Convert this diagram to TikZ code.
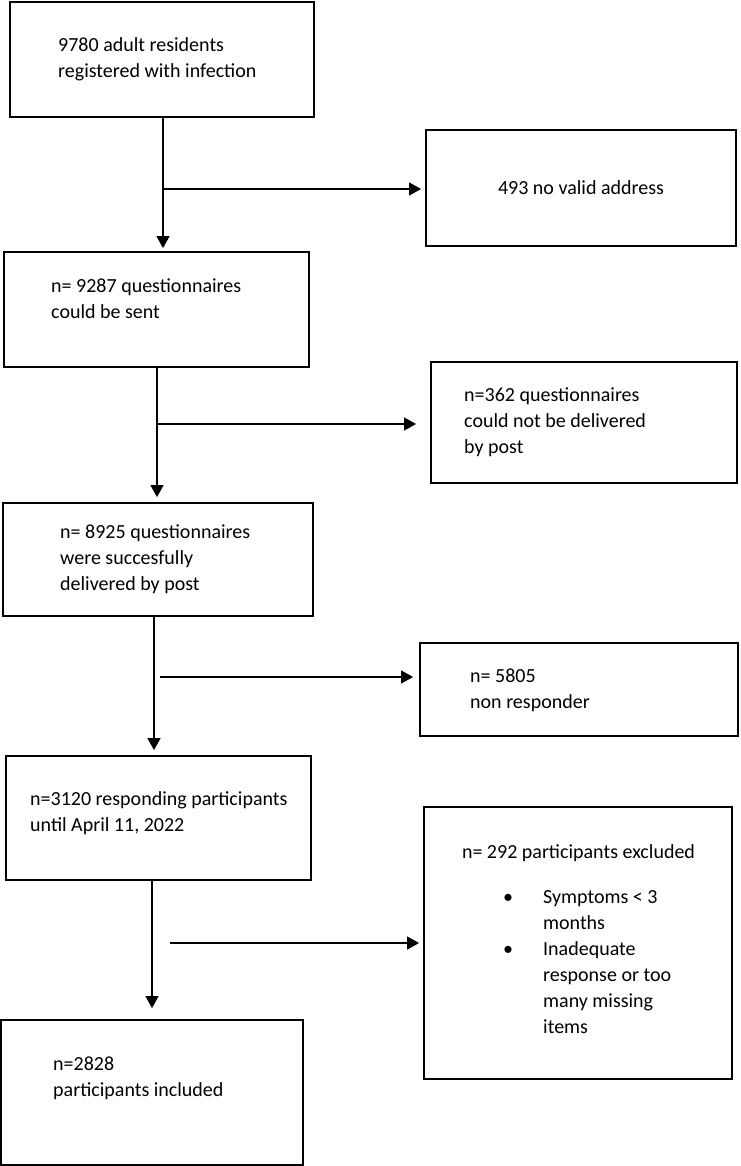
\documentclass[tikz,border=0pt]{standalone}
\usepackage{fontspec}
\setmainfont{Carlito}
\usetikzlibrary{arrows.meta}

\begin{document}
\begin{tikzpicture}[x=1pt,y=-1pt,>={Triangle[length=12pt,width=13pt]},
  box/.style={draw,line width=1.8pt,inner sep=0pt,font={\fontsize{20}{26}\selectfont}},
  txt/.style={align=left,inner sep=0pt,anchor=base west,font={\fontsize{20}{26}\selectfont}},
  link/.style={->,line width=1.2pt}]

  \useasboundingbox (0,0) rectangle (740,1166);

  % main column
  \node[box,minimum width=304pt,minimum height=115pt] (b1) at (162,59.5) {};
  \node[box,minimum width=305pt,minimum height=115pt] (b2) at (156.5,309.5) {};
  \node[box,minimum width=310pt,minimum height=113pt] (b3) at (158,559.5) {};
  \node[box,minimum width=305pt,minimum height=124pt] (b4) at (158.5,818) {};
  \node[box,minimum width=302pt,minimum height=145pt] (b5) at (152,1092.5) {};

  % texts sit on the baseline of their last line
  \node[txt] (t1) at (58,78) {9780 adult residents\\registered with infection};
  \node[txt] (t2) at (51,318) {n= 9287 questionnaires\\could be sent};
  \node[txt] (t3) at (60,590) {n= 8925 questionnaires\\were succesfully\\delivered by post};
  \node[txt] (t4) at (30,831) {n=3120 responding participants\\until April 11, 2022};
  \node[txt] (t5) at (53,1096) {n=2828\\participants included};

  % side boxes
  \node[box,minimum width=310pt,minimum height=116pt] (r1) at (581,188) {493 no valid address};
  \node[box,minimum width=306pt,minimum height=121pt] (r2) at (584,422.5) {};
  \node[box,minimum width=318pt,minimum height=93pt] (r3) at (579,689.5) {};
  \node[box,minimum width=308pt,minimum height=272pt] (r4) at (578,943) {};

  \node[txt] (u2) at (464,453) {n=362 questionnaires\\could not be delivered\\by post};
  \node[txt] (u3) at (470,708) {n= 5805\\non responder};
  \node[txt,anchor=base] (u4) at (578.5,858) {n= 292 participants excluded};
  \node[txt] (d1) at (503,903) {•};
  \node[txt] (i1) at (543,929) {Symptoms < 3\\months};
  \node[txt] (d2) at (503,955) {•};
  \node[txt] (i2) at (543,1033) {Inadequate\\response or too\\many missing\\items};

  % branch points
  \coordinate (v1) at (163,189);
  \coordinate (v2) at (157,424);
  \coordinate (v3) at (154,677);
  \coordinate (s3) at (160,677);
  \coordinate (v4) at (152,943);
  \coordinate (s4) at (170,943);

  \draw[link,shorten >=3pt] (b1.south -| v1) -- (b2.north -| v1);
  \draw[link,shorten >=5pt] (b2.south -| v2) -- (b3.north -| v2);
  \draw[link,shorten >=5pt] (b3.south -| v3) -- (b4.north -| v3);
  \draw[link,shorten >=11pt] (b4.south -| v4) -- (b5.north -| v4);

  \draw[link,shorten >=4pt] (v1) -- (r1.west |- v1);
  \draw[link,shorten >=14pt] (v2) -- (r2.west |- v2);
  \draw[link,shorten >=6pt] (s3) -- (r3.west |- s3);
  \draw[link,shorten >=4pt] (s4) -- (r4.west |- s4);

\end{tikzpicture}
\end{document}
